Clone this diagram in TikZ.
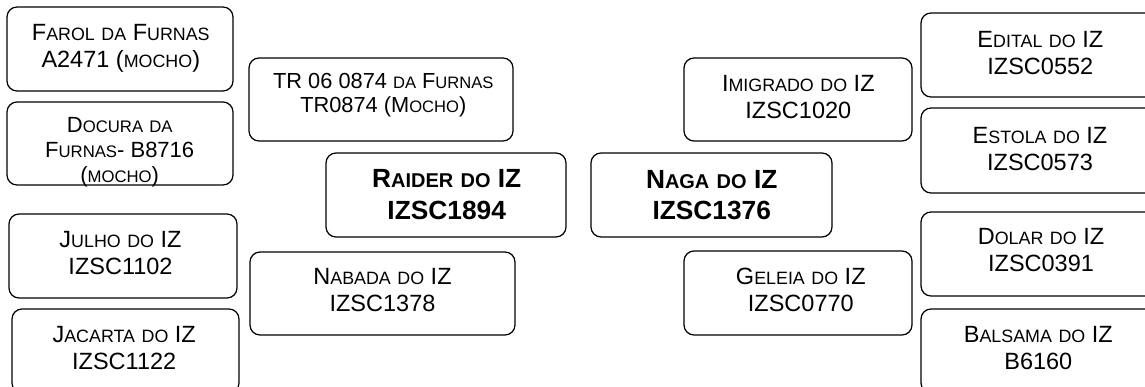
\documentclass[tikz,border=0pt]{standalone}
\usepackage{fontspec}
\setmainfont{Liberation Sans}
\newcommand\smc[1]{\scalebox{0.76}{#1}}
\tikzset{
  obox/.style={draw=black, line width=1.25pt, rounded corners=10pt, inner sep=0pt, fill=white},
  otext/.style={align=center, inner sep=0pt, text=black, font=\fontsize{23.5}{27}\selectfont},
  ttext/.style={align=center, inner sep=0pt, text=black, font=\fontsize{21.8}{24.4}\selectfont},
  dtext/.style={align=center, inner sep=0pt, text=black, font=\fontsize{22}{25}\selectfont},
  btext/.style={align=center, inner sep=0pt, text=black, font=\fontsize{26.3}{31.5}\selectfont\bfseries},
}
\begin{document}
\begin{tikzpicture}[x=1pt,y=-1pt]
\useasboundingbox (0,0) rectangle (1145,387);
\clip (0,0) rectangle (1145,387);
\fill[white] (0,0) rectangle (1145,387);
% left column
\node[obox, minimum width=226pt, minimum height=84pt] (farol) at (120,49) {};
\node[otext] (farolt) at (120.8,47.9) {F\smc{AROL} \smc{DA} F\smc{URNAS}\\A2471 (\smc{MOCHO})};
\node[obox, minimum width=226pt, minimum height=83pt] (docura) at (120,143.5) {};
\node[dtext] (docurat) at (119.7,152.4) {D\smc{OCURA} \smc{DA}\\F\smc{URNAS}- B8716\\(\smc{MOCHO})};
\node[obox, minimum width=228pt, minimum height=84pt] (julho) at (123,256) {};
\node[otext] (julhot) at (120.5,253.3) {J\smc{ULHO} \smc{DO} IZ\\IZSC1102};
\node[obox, minimum width=227pt, minimum height=84pt] (jacarta) at (125.5,351) {};
\node[otext] (jacartat) at (124.2,348.3) {J\smc{ACARTA} \smc{DO} IZ\\IZSC1122};
% second column
\node[obox, minimum width=264pt, minimum height=83pt] (tr) at (381,99.5) {};
\node[ttext] (trt) at (383.3,95) {TR 06 0874 \smc{DA} F\smc{URNAS}\\TR0874 (M\smc{OCHO})};
\node[obox, minimum width=240pt, minimum height=84pt] (raider) at (446,195) {};
\node[btext] (raidert) at (446.7,194.8) {R\smc{AIDER} \smc{DO} IZ\\IZSC1894};
\node[obox, minimum width=265pt, minimum height=83pt] (nabada) at (382.5,293.5) {};
\node[otext] (nabadat) at (382.5,290) {N\smc{ABADA} \smc{DO} IZ\\IZSC1378};
% third column
\node[obox, minimum width=241pt, minimum height=84pt] (naga) at (711.5,195) {};
\node[btext] (nagat) at (711.7,195.1) {N\smc{AGA} \smc{DO} IZ\\IZSC1376};
\node[obox, minimum width=228pt, minimum height=83pt] (imigrado) at (798,99.5) {};
\node[otext] (imigradot) at (798.3,97) {I\smc{MIGRADO} \smc{DO} IZ\\IZSC1020};
\node[obox, minimum width=228pt, minimum height=84pt] (geleia) at (798,293) {};
\node[otext] (geleiat) at (800.8,290) {G\smc{ELEIA} \smc{DO} IZ\\IZSC0770};
% right column
\node[obox, minimum width=240pt, minimum height=84pt] (edital) at (1041,55) {};
\node[otext] (editalt) at (1040.3,52.8) {E\smc{DITAL} \smc{DO} IZ\\IZSC0552};
\node[obox, minimum width=240pt, minimum height=85pt] (estola) at (1041,150.5) {};
\node[otext] (estolat) at (1040,149.5) {E\smc{STOLA} \smc{DO} IZ\\IZSC0573};
\node[obox, minimum width=240pt, minimum height=84pt] (dolar) at (1041,254) {};
\node[otext] (dolart) at (1041,250.5) {D\smc{OLAR} \smc{DO} IZ\\IZSC0391};
\node[obox, minimum width=240pt, minimum height=84pt] (balsama) at (1041,351) {};
\node[otext] (balsamat) at (1038.3,347.6) {B\smc{ALSAMA} \smc{DO} IZ\\B6160};
\end{tikzpicture}
\end{document}
